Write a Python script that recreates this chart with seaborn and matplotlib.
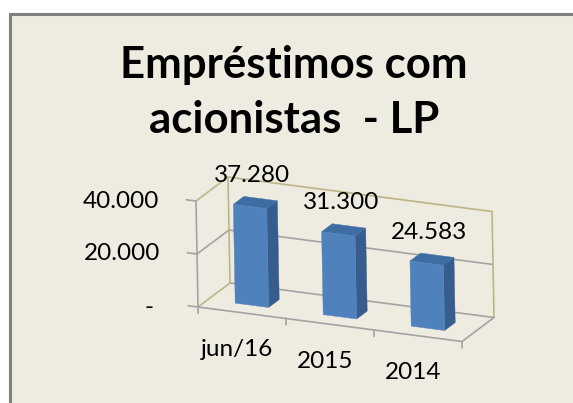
import numpy as np
import matplotlib
matplotlib.use("Agg")
import matplotlib.pyplot as plt
from matplotlib.patches import Rectangle, Polygon
from matplotlib.transforms import Affine2D, IdentityTransform
import seaborn as sns

# data
categories = ["jun/16", "2015", "2014"]
values = [37280, 31300, 24583]
ytick_values = [0, 20000, 40000]
ytick_labels = ["-", "20.000", "40.000"]
title_lines = ["Empréstimos com", "acionistas  - LP"]

sns.set_theme(style="white")
plt.rcParams["font.family"] = ["Lato", "DejaVu Sans"]

W, H = 573, 403
BG = "#EEECE1"
BAR_FRONT = "#4F81BD"
BAR_SIDE = "#365D8D"
BAR_TOP = "#3F6CA3"
GRID = "#A3A3A3"
WALL = "#BDB588"

fig = plt.figure(figsize=(W / 100, H / 100), dpi=100)
fig.patch.set_facecolor("white")
fig.add_artist(Rectangle((9.5, -20), 700, H - 13.5 + 20, transform=IdentityTransform(),
                         facecolor=BG, edgecolor="#808080", lw=2.2, zorder=-5))

ax = fig.add_axes([0, 0, 1, 1])
ax.axis("off")

# pseudo-3D projection, display pixels (y up)
ORIGIN = np.array([198.0, H - 307.0])
EX = np.array([88.0, -11.5])        # per category unit
EZ = np.array([-2.0, 106.0]) / 40000  # per value unit
DEPTH = np.array([32.0, 24.0])     # whole floor depth
P0, P1 = 0.31, 0.64                # bar depth span


def proj(p):
    off = ORIGIN + 0.5 * EX + p * DEPTH
    return Affine2D(np.array([[EX[0], EZ[0], off[0]],
                              [EX[1], EZ[1], off[1]],
                              [0, 0, 1]]))


def pt(x, p, z):
    return ORIGIN + (x + 0.5) * EX + z * EZ + p * DEPTH


def seg(a, b, color, z=1):
    xy = np.array([a, b])
    ax.add_line(plt.Line2D(xy[:, 0], xy[:, 1], color=color, lw=1.2,
                           transform=IdentityTransform(), zorder=z))


xl, xr = -0.5, len(categories) - 0.5
# walls and gridlines
for zv in ytick_values:
    side_col = GRID if zv == 20000 else WALL
    back_col = WALL if zv == 40000 else GRID
    seg(pt(xl, 0, zv), pt(xl, 1, zv), side_col)
    seg(pt(xl, 1, zv), pt(xr, 1, zv), back_col)
seg(pt(xl, 1, 0), pt(xl, 1, 40000), WALL)
seg(pt(xr, 1, 0), pt(xr, 1, 40000), WALL)
seg(pt(xl, 0, 0), pt(xl, 0, 40000), GRID, 2)
seg(pt(xl, 0, 0), pt(xr, 0, 0), GRID, 2)
seg(pt(xr, 0, 0), pt(xr, 1, 0), GRID, 2)

# ticks
for zv in ytick_values:
    seg(pt(xl, 0, zv), pt(xl - 0.11, 0, zv), GRID, 2)
for xv in np.arange(xl, xr + 0.01, 1.0):
    seg(pt(xv, 0, 0), pt(xv, 0, -2400), GRID, 2)

# bars
sns.barplot(x=categories, y=values, ax=ax, width=0.38, color=BAR_FRONT,
            saturation=1, errorbar=None, linewidth=0)
for patch in ax.patches:
    x0, w, h = patch.get_x(), patch.get_width(), patch.get_height()
    patch.set_transform(proj(P0))
    patch.set_clip_on(False)
    patch.set_zorder(4)
    patch.set_edgecolor(BAR_FRONT)
    patch.set_linewidth(0.3)
    side = [pt(x0 + w, P0, 0), pt(x0 + w, P1, 0), pt(x0 + w, P1, h), pt(x0 + w, P0, h)]
    top = [pt(x0, P0, h), pt(x0 + w, P0, h), pt(x0 + w, P1, h), pt(x0, P1, h)]
    ax.add_patch(Polygon(side, closed=True, facecolor=BAR_SIDE, edgecolor=BAR_SIDE, lw=0.3,
                         transform=IdentityTransform(), zorder=3, clip_on=False))
    ax.add_patch(Polygon(top, closed=True, facecolor=BAR_TOP, edgecolor=BAR_TOP, lw=0.3,
                         transform=IdentityTransform(), zorder=3, clip_on=False))

# data labels
for i, v in enumerate(values):
    ax.annotate(f"{v:,.0f}".replace(",", "."), xy=(i, v), xycoords=proj((P0 + P1) / 2),
                xytext=(-3, 27), textcoords="offset pixels", ha="center", va="center",
                fontsize=17.5, color="black", zorder=6)

# value axis labels
for zv, lab in zip(ytick_values, ytick_labels):
    dx = -44 if zv == 0 else -37
    ax.annotate(lab, xy=(xl, zv), xycoords=proj(0), xytext=(dx, 0),
                textcoords="offset pixels", ha="right", va="center",
                fontsize=17.5, color="black")

# category labels
for i, cat in enumerate(categories):
    ax.annotate(cat, xy=(i, 0), xycoords=proj(0), xytext=(-5, -37),
                textcoords="offset pixels", ha="center", va="center",
                fontsize=17.5, color="black")

# title
for line, yb in zip(title_lines, [78, 133]):
    fig.text(294 / W, (H - yb) / H, line, ha="center", va="baseline",
             fontsize=31.5, fontweight="bold", color="black")

fig.savefig("out.png", dpi=100, facecolor=fig.get_facecolor())
